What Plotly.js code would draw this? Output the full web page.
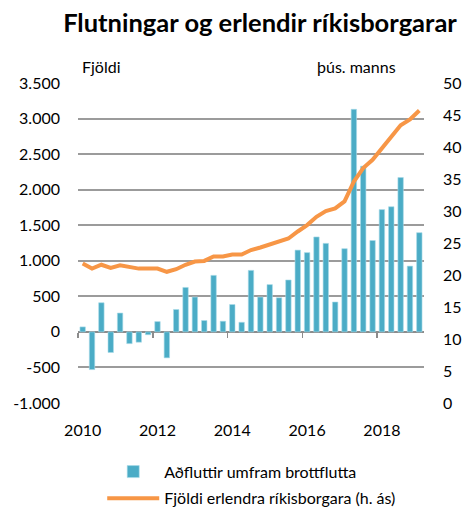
<!DOCTYPE html>
<html>
<head>
<meta charset="utf-8">
<script src="https://cdn.plot.ly/plotly-3.0.1.min.js"></script>
<style>html,body{margin:0;padding:0;background:#fff;}#chart{width:465px;height:510px;}</style>
</head>
<body>
<div id="chart"></div>
<script>
// Quarterly observations, 2010 Q1 – 2019 Q1 (index 0..36)
var quarterIndex = [];
for (var i = 0; i < 37; i++) quarterIndex.push(i);

var netMigration = [70, -530, 410, -290, 265, -165, -145, -40,
  145, -365, 315, 625, 490, 160, 795, 150,
  385, 135, 865, 490, 665, 480, 730, 1150,
  1115, 1335, 1245, 420, 1170, 3130, 2330, 1285,
  1720, 1760, 2170, 925, 1395];

var foreignCitizens = [21.8, 21.0, 21.6, 21.1, 21.5, 21.2, 21.0, 21.0,
  21.0, 20.5, 20.9, 21.6, 22.1, 22.2, 22.9, 22.9,
  23.2, 23.2, 23.9, 24.3, 24.8, 25.2, 25.7, 26.8,
  27.8, 29.1, 30.0, 30.4, 31.5, 34.6, 36.7, 38.0,
  39.8, 41.5, 43.4, 44.3, 45.7];

var yearTickVals = [0, 8, 16, 24, 32];
var yearTickText = ['2010', '2012', '2014', '2016', '2018'];
var yearBoundaryTicks = [-0.5, 7.5, 15.5, 23.5, 31.5];

var leftTickVals = [-1000, -500, 0, 500, 1000, 1500, 2000, 2500, 3000, 3500];
var leftTickText = ['-1.000', '-500', '0', '500', '1.000', '1.500', '2.000', '2.500', '3.000', '3.500'];
var rightTickVals = [0, 5, 10, 15, 20, 25, 30, 35, 40, 45, 50];
var rightTickText = ['0', '5', '10', '15', '20', '25', '30', '35', '40', '45', '50'];

var FONT = 'Lato, "Open Sans", sans-serif';

var traces = [
  {
    type: 'bar',
    x: quarterIndex,
    y: netMigration,
    name: 'Aðfluttir umfram brottflutta',
    marker: {color: '#4BACC6', line: {color: '#A9DCEA', width: 0.6}},
    width: 0.58,
    xaxis: 'x',
    yaxis: 'y',
    legend: 'legend',
    hoverinfo: 'skip'
  },
  {
    type: 'scatter',
    mode: 'lines',
    x: quarterIndex,
    y: foreignCitizens,
    name: 'Fjöldi erlendra ríkisborgara (h. ás)',
    line: {color: '#F79646', width: 4},
    xaxis: 'x',
    yaxis: 'y2',
    legend: 'legend2',
    hoverinfo: 'skip'
  },
  {
    // carrier for the category-boundary tick marks on the zero line
    type: 'scatter',
    mode: 'markers',
    x: [],
    y: [],
    xaxis: 'x2',
    yaxis: 'y',
    showlegend: false,
    hoverinfo: 'skip'
  }
];

var layout = {
  width: 465,
  height: 510,
  margin: {l: 78, r: 41, t: 83, b: 107, pad: 0, autoexpand: false},
  paper_bgcolor: '#ffffff',
  plot_bgcolor: '#ffffff',
  font: {family: FONT, size: 16, color: '#000000'},
  showlegend: true,
  title: {
    text: '<b>Flutningar og erlendir ríkisborgarar</b>',
    font: {family: FONT, size: 25.5, color: '#000000'},
    x: 0.526, xanchor: 'center', xref: 'paper',
    y: 0.955, yanchor: 'middle'
  },
  xaxis: {
    range: [-0.5, 36.5],
    tickmode: 'array',
    tickvals: yearTickVals,
    ticktext: yearTickText,
    ticks: '',
    ticklabelstandoff: 16,
    showgrid: false,
    zeroline: false,
    showline: false,
    tickfont: {family: FONT, size: 16}
  },
  xaxis2: {
    range: [-0.5, 36.5],
    overlaying: 'x',
    anchor: 'free',
    position: 1000 / 4500,
    side: 'bottom',
    showticklabels: false,
    showgrid: false,
    zeroline: false,
    showline: false,
    ticks: 'outside',
    ticklen: 5,
    tickwidth: 1.5,
    tickcolor: '#8c8c8c',
    tickmode: 'array',
    tickvals: yearBoundaryTicks
  },
  yaxis: {
    range: [-1000, 3500],
    tickmode: 'array',
    tickvals: leftTickVals,
    ticktext: leftTickText,
    ticks: '',
    ticklabelstandoff: 17,
    showgrid: true,
    gridcolor: '#9b9b9b',
    gridwidth: 2,
    zeroline: true,
    zerolinecolor: '#8c8c8c',
    zerolinewidth: 2,
    showline: false,
    tickfont: {family: FONT, size: 16}
  },
  yaxis2: {
    range: [0, 50],
    overlaying: 'y',
    side: 'right',
    tickmode: 'array',
    tickvals: rightTickVals,
    ticktext: rightTickText,
    ticks: '',
    ticklabelstandoff: 18,
    showgrid: false,
    zeroline: false,
    showline: false,
    tickfont: {family: FONT, size: 16}
  },
  legend: {
    orientation: 'v',
    x: 0.07, xanchor: 'left', xref: 'paper',
    y: -0.2147, yanchor: 'middle', yref: 'paper',
    font: {family: FONT, size: 16, color: '#000000'},
    itemwidth: 52,
    bgcolor: 'rgba(0,0,0,0)'
  },
  legend2: {
    orientation: 'v',
    x: 0.07, xanchor: 'left', xref: 'paper',
    y: -0.2978, yanchor: 'middle', yref: 'paper',
    font: {family: FONT, size: 16, color: '#000000'},
    itemwidth: 52,
    bgcolor: 'rgba(0,0,0,0)'
  },
  annotations: [
    {text: 'Fjöldi', xref: 'paper', yref: 'paper', x: 0.007, y: 1.052, xanchor: 'left', yanchor: 'middle', showarrow: false, font: {family: FONT, size: 16}},
    {text: 'þús. manns', xref: 'paper', yref: 'paper', x: 0.925, y: 1.052, xanchor: 'right', yanchor: 'middle', showarrow: false, font: {family: FONT, size: 16}}
  ]
};

Plotly.newPlot('chart', traces, layout, {displayModeBar: false, staticPlot: true});
</script>
</body>
</html>
